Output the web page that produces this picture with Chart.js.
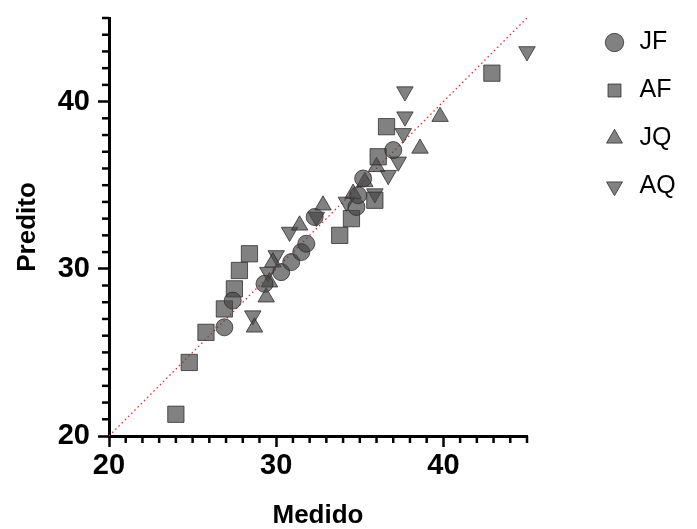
<!DOCTYPE html>
<html>
<head>
<meta charset="utf-8">
<script src="https://cdn.jsdelivr.net/npm/chart.js@4"></script>
<style>
    html, body { margin: 0; padding: 0; background: #fff; }
    #wrap { width: 697px; height: 529px; }
</style>
</head>
<body>
<div id="wrap"><canvas id="chart" width="697" height="529"></canvas></div>
<script>
// Values (x = Medido, y = Predito)
const jfX = [26.9, 27.4, 29.3, 30.3, 30.9, 31.5, 31.8, 32.3, 34.8, 34.9, 35.2, 37.0];
const jfY = [26.5, 28.1, 29.1, 29.8, 30.4, 31.0, 31.5, 33.1, 33.7, 34.4, 35.4, 37.1];

const afX = [24.0, 24.8, 25.8, 26.9, 27.5, 27.8, 28.4, 33.8, 34.5, 35.9, 36.1, 36.6, 42.9];
const afY = [21.3, 24.4, 26.2, 27.6, 28.8, 29.9, 30.9, 32.0, 33.0, 34.1, 36.7, 38.5, 41.7];

const jqX = [28.7, 29.4, 29.6, 29.8, 31.4, 32.8, 34.6, 35.3, 36.0, 38.6, 39.8];
const jqY = [26.5, 28.3, 29.2, 30.4, 32.6, 33.8, 34.5, 35.2, 36.1, 37.2, 39.1];

const aqX = [28.6, 29.5, 30.0, 30.8, 32.4, 34.2, 35.9, 36.7, 37.3, 37.6, 37.7, 37.7, 45.0];
const aqY = [27.2, 29.8, 30.8, 32.2, 33.1, 34.0, 34.5, 35.6, 36.4, 38.1, 39.1, 40.6, 43.0];

// identity line y = x
const lineX = [20, 45];

const axisMin = 20, axisMax = 45;
const majorTicks = [20, 30, 40];

const FONT = "'Liberation Sans', Arial, Helvetica, sans-serif";
const fill = "rgba(70, 70, 70, 0.68)";
const edge = "rgba(40, 40, 40, 0.75)";

function toPoints(xs, ys) {
    return xs.map((x, i) => ({ x: x, y: ys[i] }));
}

function series(label, xs, ys, style, radius, rotation) {
    return {
        label: label,
        data: toPoints(xs, ys),
        pointStyle: style,
        pointRadius: radius,
        pointHoverRadius: radius,
        rotation: rotation || 0,
        backgroundColor: fill,
        borderColor: edge,
        borderWidth: 1,
        showLine: false,
        clip: false
    };
}

// minor tick marks (every unit) drawn on the library scales
const minorTicks = {
    id: "minorTicks",
    afterLayout(chart) {
        // push the legend away from the plot, as in the original
        if (chart.legend) {
            chart.legend.left += 52;
            chart.legend.right += 52;
        }
    },
    afterDraw(chart) {
        const ctx = chart.ctx;
        const xs = chart.scales.x, ys = chart.scales.y;
        const area = chart.chartArea;
        ctx.save();
        ctx.strokeStyle = "#000";
        ctx.lineWidth = 2.5;
        for (let v = axisMin; v <= axisMax; v++) {
            if (majorTicks.includes(v)) continue;
            const px = xs.getPixelForValue(v);
            ctx.beginPath();
            ctx.moveTo(px, area.bottom);
            ctx.lineTo(px, area.bottom + 7);
            ctx.stroke();
            const py = ys.getPixelForValue(v);
            ctx.beginPath();
            ctx.moveTo(area.left, py);
            ctx.lineTo(area.left - 7, py);
            ctx.stroke();
        }
        ctx.restore();
    }
};

const ctx = document.getElementById("chart").getContext("2d");
new Chart(ctx, {
    type: "scatter",
    data: {
        datasets: [
            series("JF", jfX, jfY, "circle", 8.5),
            series("AF", afX, afY, "rect", 11.5),
            series("JQ", jqX, jqY, "triangle", 9.5),
            series("AQ", aqX, aqY, "triangle", 9.5, 180),
            {
                label: "y = x",
                data: toPoints(lineX, lineX),
                showLine: true,
                borderColor: "#ff2020",
                borderWidth: 1.3,
                borderDash: [1.5, 3],
                pointRadius: 0,
                fill: false
            }
        ]
    },
    options: {
        responsive: false,
        animation: false,
        layout: { padding: { top: 7, right: 0, left: 0, bottom: 0 } },
        plugins: {
            tooltip: { enabled: false },
            legend: {
                position: "right",
                align: "start",
                labels: {
                    usePointStyle: true,
                    boxHeight: 13,
                    padding: 23,
                    color: "#000",
                    font: { family: FONT, size: 25 },
                    filter: item => item.text !== "y = x"
                }
            }
        },
        scales: {
            x: {
                type: "linear",
                min: axisMin,
                max: axisMax,
                afterFit(scale) {
                    scale.height = 93;
                    scale.paddingRight = 170;
                },
                border: { display: true, color: "#000", width: 3 },
                grid: {
                    display: true,
                    drawOnChartArea: false,
                    drawTicks: true,
                    tickLength: 11,
                    tickWidth: 2.5,
                    tickColor: c => majorTicks.includes(c.tick.value) ? "#000" : "rgba(0,0,0,0)"
                },
                ticks: {
                    stepSize: 1,
                    autoSkip: false,
                    maxRotation: 0,
                    padding: 2,
                    color: "#000",
                    font: { family: FONT, size: 29, weight: "bold" },
                    callback: v => (majorTicks.includes(v) ? String(v) : "")
                },
                title: {
                    display: true,
                    text: "Medido",
                    color: "#000",
                    padding: { top: 0, bottom: 0 },
                    font: { family: FONT, size: 26, weight: "bold", lineHeight: 1 }
                }
            },
            y: {
                type: "linear",
                min: axisMin,
                max: axisMax,
                afterFit(scale) {
                    scale.width = 109;
                    scale.paddingTop = 18;
                },
                border: { display: true, color: "#000", width: 3 },
                grid: {
                    display: true,
                    drawOnChartArea: false,
                    drawTicks: true,
                    tickLength: 11,
                    tickWidth: 2.5,
                    tickColor: c => majorTicks.includes(c.tick.value) ? "#000" : "rgba(0,0,0,0)"
                },
                ticks: {
                    stepSize: 1,
                    autoSkip: false,
                    padding: 8,
                    color: "#000",
                    font: { family: FONT, size: 29, weight: "bold" },
                    callback: v => (majorTicks.includes(v) ? String(v) : "")
                },
                title: {
                    display: true,
                    text: "Predito",
                    color: "#000",
                    padding: { top: 15, bottom: 0 },
                    font: { family: FONT, size: 26, weight: "bold", lineHeight: 1 }
                }
            }
        }
    },
    plugins: [minorTicks]
});
</script>
</body>
</html>
